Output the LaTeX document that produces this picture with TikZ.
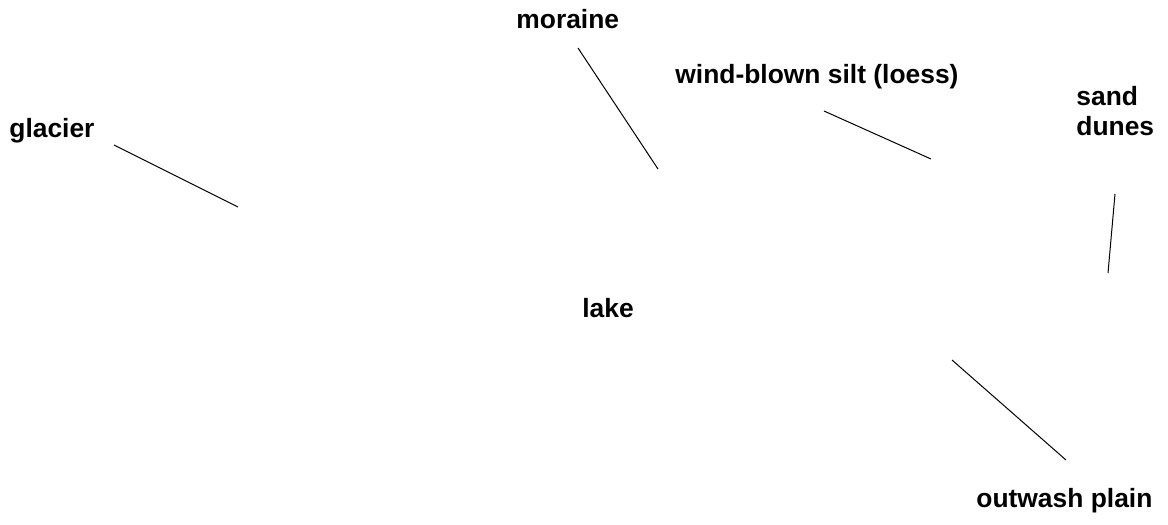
\documentclass[tikz,border=0pt]{standalone}
\usepackage{fontspec}
\setmainfont{Liberation Sans}
\usepackage{tikz}
\usetikzlibrary{positioning}

\tikzset{
  lbl/.style={anchor=base west,inner sep=0pt,font=\fontsize{13.2}{15}\selectfont\bfseries,align=left},
  leader/.style={line width=0.5pt,black}
}

\begin{document}
\begin{tikzpicture}[x=0.5pt,y=-0.5pt]
\useasboundingbox (0,0) rectangle (1168,525);

\node[lbl] (glacier) at (9,137) {glacier};
\node[lbl] (moraine) at (516,28) {moraine};
\node[lbl] (loess) at (675,83) {wind-blown silt (loess)};
\node[lbl] (dunes) at (1076,135) {sand\\dunes};
\node[lbl] (lake) at (582,317) {lake};
\node[lbl] (outwash) at (976,507) {outwash plain};

\coordinate (glacier1) at (114,145);
\coordinate (glacier2) at (238,207);
\coordinate (moraine1) at (578,48);
\coordinate (moraine2) at (658,169);
\coordinate (loess1) at (824,111);
\coordinate (loess2) at (931,159);
\coordinate (dunes1) at (1115,194);
\coordinate (dunes2) at (1108,273);
\coordinate (outwash1) at (952,360);
\coordinate (outwash2) at (1066,460);

\draw[leader] (glacier1)--(glacier2);
\draw[leader] (moraine1)--(moraine2);
\draw[leader] (loess1)--(loess2);
\draw[leader] (dunes1)--(dunes2);
\draw[leader] (outwash1)--(outwash2);
\end{tikzpicture}
\end{document}
